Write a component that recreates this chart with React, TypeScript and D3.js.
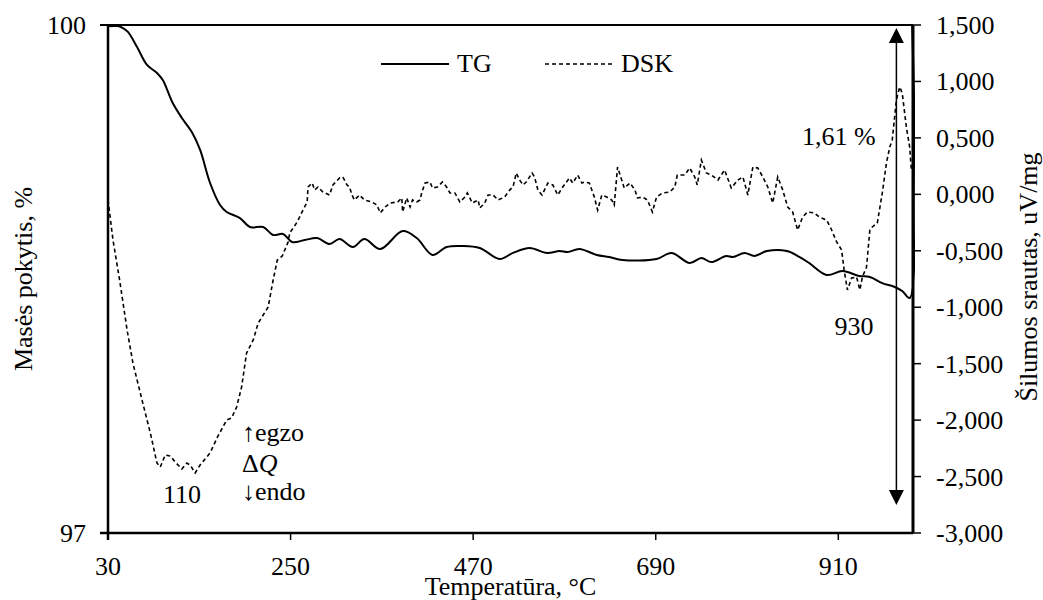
import React from "react";
import * as d3 from "d3";

// ---- data ----
const tgTemp = [30, 32, 42, 48, 54, 65, 77, 89, 96, 108, 119, 131, 141, 153, 165, 173, 189, 201, 217, 229, 241, 252, 267, 282, 297, 309, 325, 339, 358, 385, 402, 421, 438, 457, 478, 502, 518, 538, 559, 574, 584, 598, 619, 634, 650, 691, 709, 731, 745, 757, 775, 783, 797, 809, 824, 848, 863, 875, 896, 915, 935, 948, 963, 978, 987, 996, 999];
const tgMass = [100.0, 99.994, 99.994, 99.982, 99.959, 99.87, 99.764, 99.717, 99.675, 99.539, 99.451, 99.368, 99.262, 99.067, 98.937, 98.896, 98.86, 98.807, 98.807, 98.76, 98.766, 98.718, 98.73, 98.742, 98.707, 98.736, 98.689, 98.736, 98.677, 98.783, 98.742, 98.642, 98.689, 98.695, 98.683, 98.618, 98.654, 98.683, 98.654, 98.665, 98.659, 98.677, 98.642, 98.63, 98.612, 98.618, 98.654, 98.594, 98.624, 98.6, 98.636, 98.63, 98.654, 98.636, 98.665, 98.665, 98.63, 98.594, 98.524, 98.547, 98.518, 98.512, 98.476, 98.453, 98.429, 98.388, 100.0];

const dskTemp = [30, 36, 44, 53, 60, 71, 81, 89, 93, 99, 105, 111, 119, 125, 129, 135, 141, 153, 162, 173, 179, 185, 191, 197, 205, 211, 217, 223, 229, 234, 240, 243, 247, 249, 258, 265, 270, 271, 276, 279, 283, 289, 297, 301, 309, 313, 318, 321, 324, 327, 333, 339, 348, 354, 358, 364, 370, 379, 384, 385, 390, 394, 397, 402, 406, 408, 412, 418, 421, 427, 433, 438, 442, 448, 454, 460, 463, 469, 476, 478, 484, 488, 494, 500, 508, 514, 518, 522, 526, 530, 534, 541, 544, 548, 553, 560, 566, 572, 578, 586, 590, 596, 601, 604, 610, 616, 620, 625, 631, 637, 640, 644, 649, 652, 659, 665, 668, 674, 680, 686, 691, 698, 707, 713, 716, 725, 731, 737, 740, 745, 751, 757, 765, 773, 781, 789, 795, 801, 807, 813, 819, 825, 831, 837, 843, 849, 855, 861, 867, 873, 881, 887, 896, 902, 908, 914, 917, 921, 926, 932, 936, 939, 944, 948, 951, 957, 963, 968, 972, 975, 980, 984, 987, 992, 996, 998];
const dskFlow = [-50, -405, -759, -1202, -1494, -1822, -2114, -2380, -2415, -2309, -2318, -2371, -2433, -2380, -2398, -2468, -2398, -2291, -2149, -1999, -1981, -1884, -1707, -1405, -1290, -1140, -1069, -998, -759, -582, -546, -493, -422, -342, -245, -139, -68, 65, 100, 38, 65, 21, -6, 83, 145, 154, 83, 65, -6, -50, -6, -50, -68, -94, -165, -112, -77, -68, -32, -156, -32, -112, -50, -68, -50, 12, 100, 109, 56, 65, 109, 65, 12, 12, -68, -24, 12, -77, -50, -121, -77, -6, -6, -50, -24, 38, 65, 189, 127, 83, 109, 189, 154, 38, -6, 100, 83, -6, 65, 145, 100, 171, 100, 109, 100, -24, -139, -6, -24, -50, -94, 242, 127, 56, 100, 38, -32, -24, -50, -156, -24, 12, 21, 65, 171, 171, 233, 154, 83, 304, 189, 171, 127, 216, 56, 127, 154, -6, 242, 233, 154, 65, -77, 154, 38, -112, -156, -316, -201, -156, -165, -201, -227, -316, -422, -493, -670, -847, -741, -732, -847, -732, -644, -316, -289, -254, 12, 278, 419, 481, 836, 951, 898, 596, 419, 216];

const xTicks = [30, 250, 470, 690, 910];
const xTickLabels = ["30", "250", "470", "690", "910"];
const leftTicks = [97, 100];
const leftTickLabels = ["97", "100"];
const rightTicks = [-3000, -2500, -2000, -1500, -1000, -500, 0, 500, 1000, 1500];
const rightTickLabels = ["-3,000", "-2,500", "-2,000", "-1,500", "-1,000", "-0,500", "0,000", "0,500", "1,000", "1,500"];

const seriesNames = ["TG", "DSK"];
const xTitle = "Temperatūra, °C";
const leftTitle = "Masės pokytis, %";
const rightTitle = "Šilumos srautas, uV/mg";

// ---- layout ----
const W = 1043, H = 600;
const L = 108, R = 913, T = 25, B = 533;
const FONT = "'Liberation Serif', 'Times New Roman', serif";
const FS = 26;
const DASH = "4,3";

export default function App() {
  const x = d3.scaleLinear().domain([30, 1000]).range([L, R]);
  const yL = d3.scaleLinear().domain([97, 100]).range([B, T]);
  const yR = d3.scaleLinear().domain([-3000, 1500]).range([B, T]);

  const tgPts: [number, number][] = tgTemp.map((t, i) => [x(t), yL(tgMass[i])]);
  const dskPts: [number, number][] = dskTemp.map((t, i) => [x(t), yR(dskFlow[i])]);
  const tgPath = d3.line().curve(d3.curveCatmullRom.alpha(0.5))(tgPts) || "";
  const dskPath = d3.line()(dskPts) || "";

  const arrowX = x(980);
  const arrowTop = 28, arrowBot = 505;

  return (
    <svg width={W} height={H} style={{ position: "absolute", left: 0, top: 0, background: "#fff" }}
      fontFamily={FONT} fontSize={FS}>
      <rect x={0} y={0} width={W} height={H} fill="#fff" />
      <defs>
        <clipPath id="plotclip">
          <rect x={L} y={T - 2} width={R - L + 2} height={B - T + 4} />
        </clipPath>
      </defs>

      {/* series */}
      <g clipPath="url(#plotclip)">
        <path d={dskPath} fill="none" stroke="#000" strokeWidth={1.6} strokeDasharray={DASH} />
        <path d={tgPath} fill="none" stroke="#000" strokeWidth={2} />
      </g>

      {/* frame lines */}
      <line x1={L - 8} x2={R} y1={T} y2={T} stroke="#000" strokeWidth={2} />
      <line x1={L - 8} x2={R} y1={B} y2={B} stroke="#000" strokeWidth={2.5} />
      <line x1={L} x2={L} y1={T} y2={B + 7} stroke="#000" strokeWidth={2.5} />
      <line x1={R} x2={R} y1={T} y2={B} stroke="#000" strokeWidth={3} />

      {/* x ticks */}
      {xTicks.map((t, i) => (
        <g key={"x" + t}>
          <line x1={x(t)} x2={x(t)} y1={B} y2={B + 7} stroke="#000" strokeWidth={1.5} />
          <text x={x(t)} y={575} textAnchor="middle">{xTickLabels[i]}</text>
        </g>
      ))}
      {/* left ticks */}
      {leftTicks.map((t, i) => (
        <text key={"l" + t} x={86} y={yL(t) + 9} textAnchor="end">{leftTickLabels[i]}</text>
      ))}
      {/* right ticks */}
      {rightTicks.map((t, i) => (
        <g key={"r" + t}>
          <line x1={R} x2={R + 8} y1={yR(t)} y2={yR(t)} stroke="#000" strokeWidth={1.5} />
          <text x={936} y={yR(t) + 9} textAnchor="start">{rightTickLabels[i]}</text>
        </g>
      ))}

      {/* axis titles */}
      <text x={(L + R) / 2} y={595} textAnchor="middle">{xTitle}</text>
      <text transform={`translate(32,${(T + B) / 2}) rotate(-90)`} textAnchor="middle">{leftTitle}</text>
      <text transform={`translate(1037,${(T + B) / 2 - 2}) rotate(-90)`} textAnchor="middle">{rightTitle}</text>

      {/* legend */}
      <line x1={381} x2={449} y1={64} y2={64} stroke="#000" strokeWidth={2} />
      <text x={457} y={72}>{seriesNames[0]}</text>
      <line x1={545} x2={613} y1={64} y2={64} stroke="#000" strokeWidth={1.6} strokeDasharray={DASH} />
      <text x={621} y={72}>{seriesNames[1]}</text>

      {/* double arrow */}
      <line x1={arrowX} x2={arrowX} y1={arrowTop + 10} y2={arrowBot - 10} stroke="#000" strokeWidth={1.5} />
      <path d={`M${arrowX},${arrowTop} L${arrowX - 7.5},${arrowTop + 15} L${arrowX + 7.5},${arrowTop + 15} Z`} fill="#000" />
      <path d={`M${arrowX},${arrowBot} L${arrowX - 7.5},${arrowBot - 15} L${arrowX + 7.5},${arrowBot - 15} Z`} fill="#000" />

      {/* annotations */}
      <text x={182} y={503} textAnchor="middle">110</text>
      <text x={854} y={335} textAnchor="middle">930</text>
      <text x={802} y={145}>1,61 %</text>
      <text x={242} y={441}>↑egzo</text>
      <text x={242} y={472}>Δ<tspan fontStyle="italic">Q</tspan></text>
      <text x={242} y={500}>↓endo</text>
    </svg>
  );
}
